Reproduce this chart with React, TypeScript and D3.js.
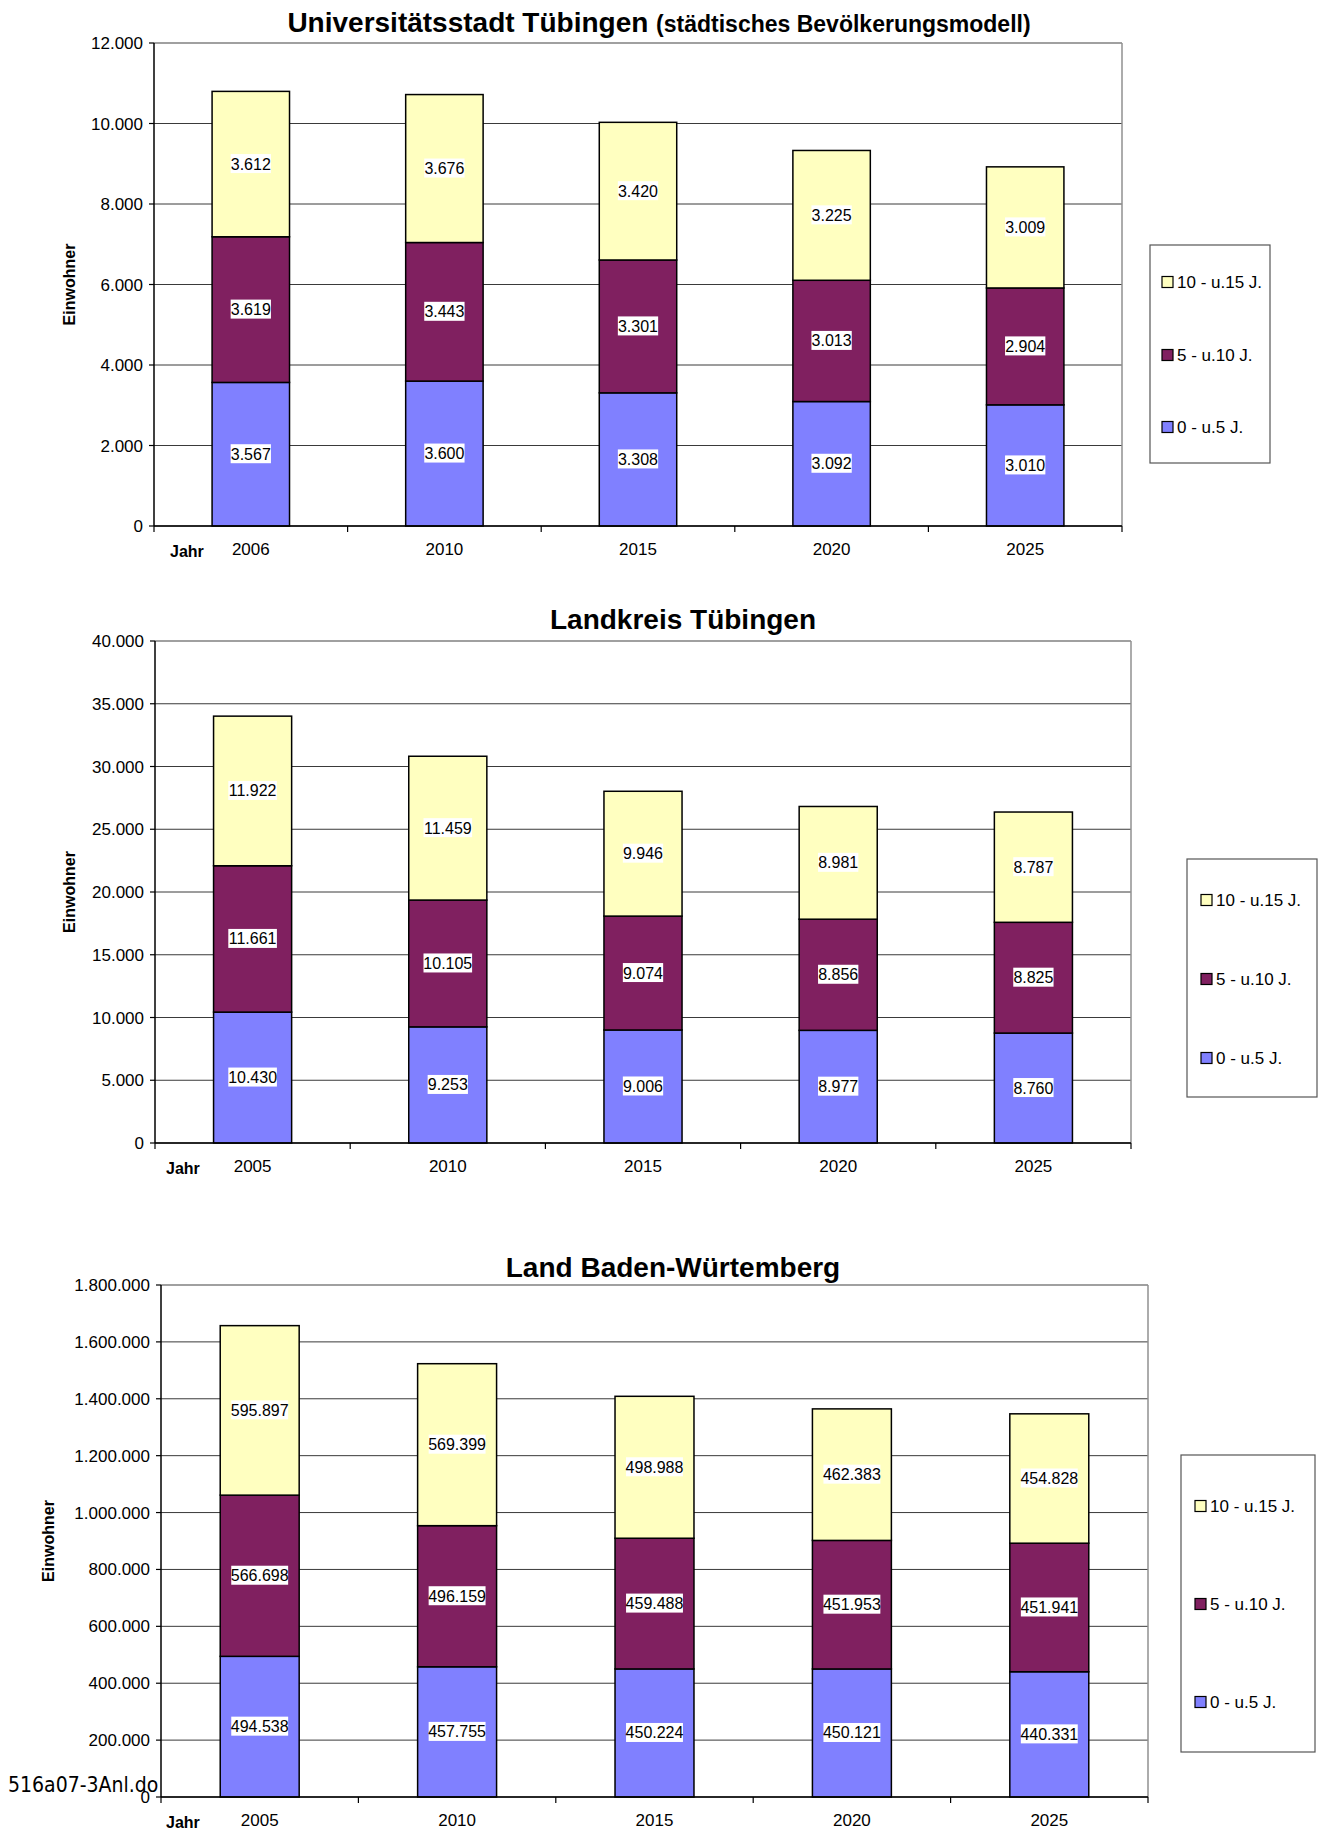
import React from 'react';
import * as d3 from "d3";

// age groups, bottom to top of each stack
const ageGroups = ["0 - u.5 J.", "5 - u.10 J.", "10 - u.15 J."];
const groupColors = ["#8080FF", "#802060", "#FFFFC0"];

// Universitätsstadt Tübingen
const stadtYears = ["2006", "2010", "2015", "2020", "2025"];
const stadtU5 = [3567, 3600, 3308, 3092, 3010];
const stadtU10 = [3619, 3443, 3301, 3013, 2904];
const stadtU15 = [3612, 3676, 3420, 3225, 3009];

// Landkreis Tübingen
const kreisYears = ["2005", "2010", "2015", "2020", "2025"];
const kreisU5 = [10430, 9253, 9006, 8977, 8760];
const kreisU10 = [11661, 10105, 9074, 8856, 8825];
const kreisU15 = [11922, 11459, 9946, 8981, 8787];

// Land Baden-Würtemberg
const landYears = ["2005", "2010", "2015", "2020", "2025"];
const landU5 = [494538, 457755, 450224, 450121, 440331];
const landU10 = [566698, 496159, 459488, 451953, 451941];
const landU15 = [595897, 569399, 498988, 462383, 454828];

const de = d3.formatLocale({decimal: ",", thousands: ".", grouping: [3], currency: ["", " €"]});
const fmt = de.format(",d");

const FONT = "'Liberation Sans', Arial, Helvetica, sans-serif";

function StackChart(props: any) {
    const {years, series, yMax, yStep, box, title, legend, yLabelX, jahrX} = props;
    const {left, right, top, bottom} = box;

    const rows = years.map((y: string, i: number) => ({year: y, a: series[0][i], b: series[1][i], c: series[2][i]}));
    const stacked = d3.stack().keys(["a", "b", "c"])(rows);

    const x = d3.scaleBand()
        .domain(years)
        .range([left, right])
        .paddingInner(0.6)
        .paddingOuter(0.3);
    const y = d3.scaleLinear().domain([0, yMax]).range([bottom, top]);
    const yTicks = d3.range(0, yMax + 1, yStep);
    const step = x.step();

    return (
        <g>
            {title}
            {/* gridlines */}
            {yTicks.map(t => (
                <line key={"g" + t} x1={left} x2={right} y1={y(t)} y2={y(t)}
                      stroke={t === yMax ? "#808080" : "#3a3a3a"} strokeWidth={t === yMax ? 1.5 : 1}/>
            ))}
            <line x1={right} x2={right} y1={top} y2={bottom} stroke="#909090" strokeWidth={1.5}/>

            {/* bars */}
            {stacked.map((layer: any, li: number) => layer.map((d: any, i: number) => (
                <rect key={li + "-" + i} x={x(years[i])} width={x.bandwidth()}
                      y={y(d[1])} height={y(d[0]) - y(d[1])}
                      fill={groupColors[li]} stroke="#000" strokeWidth={1.5}/>
            )))}

            {/* value labels */}
            {stacked.map((layer: any, li: number) => layer.map((d: any, i: number) => {
                const cx = (x(years[i]) as number) + x.bandwidth() / 2;
                const cy = y((d[0] + d[1]) / 2);
                const txt = fmt(d[1] - d[0]);
                const w = txt.length * 8.3 - (txt.split(".").length - 1) * 4.2 + 3;
                return (
                    <g key={"l" + li + "-" + i}>
                        <rect x={cx - w / 2} y={cy - 10} width={w} height={19} fill="#fff"/>
                        <text x={cx} y={cy + 5.5} textAnchor="middle" fontSize={16} fontFamily={FONT}>{txt}</text>
                    </g>
                );
            }))}

            {/* axes */}
            <line x1={left} x2={left} y1={top} y2={bottom} stroke="#000" strokeWidth={1.5}/>
            <line x1={left} x2={right} y1={bottom} y2={bottom} stroke="#000" strokeWidth={1.5}/>
            {yTicks.map(t => (
                <g key={"t" + t}>
                    <line x1={left - 5} x2={left} y1={y(t)} y2={y(t)} stroke="#000" strokeWidth={1.2}/>
                    <text x={left - 11} y={y(t) + 6} textAnchor="end" fontSize={17} fontFamily={FONT}>{fmt(t)}</text>
                </g>
            ))}
            {d3.range(years.length + 1).map(k => (
                <line key={"x" + k} x1={left + k * step} x2={left + k * step} y1={bottom} y2={bottom + 6}
                      stroke="#000" strokeWidth={1.2}/>
            ))}
            {years.map((yr: string) => (
                <text key={yr} x={(x(yr) as number) + x.bandwidth() / 2} y={bottom + 29} textAnchor="middle"
                      fontSize={17} fontFamily={FONT}>{yr}</text>
            ))}
            <text x={jahrX} y={bottom + 31} fontSize={16} fontWeight="bold" fontFamily={FONT}>Jahr</text>
            <text transform={`translate(${yLabelX},${(top + bottom) / 2}) rotate(-90)`} textAnchor="middle"
                  fontSize={16} fontWeight="bold" fontFamily={FONT}>Einwohner</text>

            {/* legend */}
            <rect x={legend.x} y={legend.y} width={legend.w} height={legend.h} fill="#fff" stroke="#555" strokeWidth={1.2}/>
            {[2, 1, 0].map((gi, k) => {
                const iy = legend.items[k];
                return (
                    <g key={"lg" + gi}>
                        <rect x={legend.sx} y={iy - 5.5} width={11} height={11} fill={groupColors[gi]} stroke="#000" strokeWidth={1.2}/>
                        <text x={legend.sx + 15} y={iy + 6} fontSize={17} fontFamily={FONT}>{ageGroups[gi]}</text>
                    </g>
                );
            })}
        </g>
    );
}

export default function App() {
    return (
        <svg width={1322} height={1830} style={{position: "absolute", left: 0, top: 0, background: "#fff"}}>
            <StackChart
                years={stadtYears}
                series={[stadtU5, stadtU10, stadtU15]}
                yMax={12000} yStep={2000}
                box={{left: 154, right: 1122, top: 43, bottom: 526}}
                yLabelX={75} jahrX={170}
                legend={{x: 1150, y: 245, w: 120, h: 218, sx: 1162, items: [282, 355, 427]}}
                title={
                    <text x={659} y={32} textAnchor="middle" fontFamily={FONT} fontWeight="bold">
                        <tspan fontSize={28}>Universitätsstadt Tübingen </tspan>
                        <tspan fontSize={23}>(städtisches Bevölkerungsmodell)</tspan>
                    </text>
                }
            />
            <StackChart
                years={kreisYears}
                series={[kreisU5, kreisU10, kreisU15]}
                yMax={40000} yStep={5000}
                box={{left: 155, right: 1131, top: 641, bottom: 1143}}
                yLabelX={75} jahrX={166}
                legend={{x: 1187, y: 859, w: 130, h: 238, sx: 1201, items: [900, 979, 1058]}}
                title={
                    <text x={683} y={629} textAnchor="middle" fontFamily={FONT} fontWeight="bold" fontSize={28}>Landkreis Tübingen</text>
                }
            />
            <StackChart
                years={landYears}
                series={[landU5, landU10, landU15]}
                yMax={1800000} yStep={200000}
                box={{left: 161, right: 1148, top: 1285, bottom: 1797}}
                yLabelX={54} jahrX={166}
                legend={{x: 1181, y: 1455, w: 134, h: 297, sx: 1195, items: [1506, 1604, 1702]}}
                title={
                    <text x={673} y={1277} textAnchor="middle" fontFamily={FONT} fontWeight="bold" fontSize={28}>Land Baden-Würtemberg</text>
                }
            />
            <text x={8} y={1792} fontSize={21} fontFamily="'DejaVu Sans Condensed', 'DejaVu Sans', sans-serif"
                  style={{fontStretch: "condensed"}}>516a07-3Anl.do</text>
        </svg>
    );
}
